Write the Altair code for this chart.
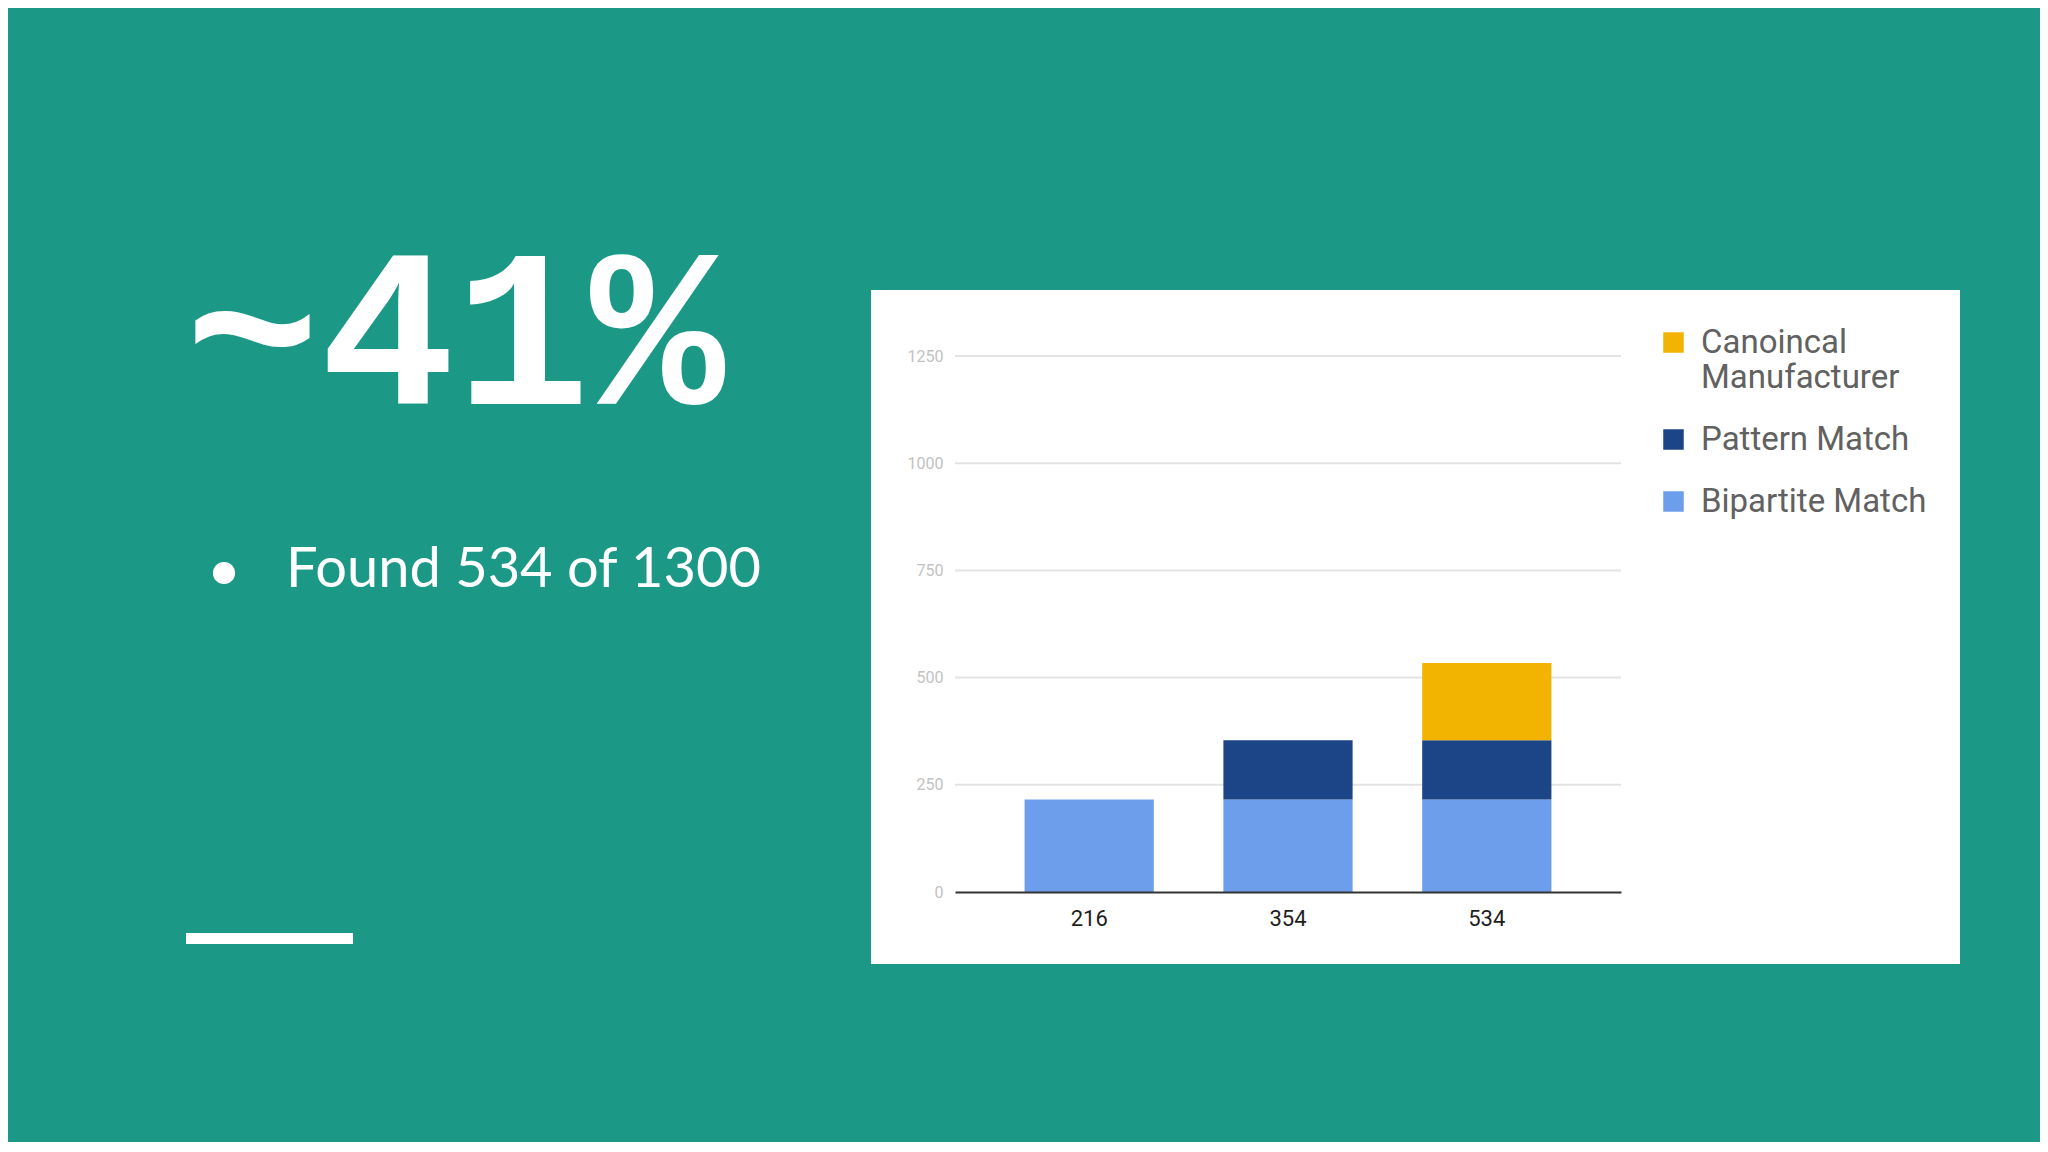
import altair as alt
import pandas as pd

# ---- data ----
totals = ["216", "354", "534"]
series = ["Canoincal Manufacturer", "Pattern Match", "Bipartite Match"]
bipartite = [216, 216, 216]
pattern = [0, 138, 138]
canonical = [0, 0, 180]
y_ticks = [0, 250, 500, 750, 1000, 1250]
grid_vals = [250, 500, 750, 1000, 1250]
colors = ["#f2b400", "#1c4587", "#6d9eeb"]
headline = "~41%"
bullet_text = "Found 534 of 1300"

rows = []
for i, t in enumerate(totals):
    rows.append({"total": t, "series": "Bipartite Match", "value": bipartite[i], "ord": 0})
    rows.append({"total": t, "series": "Pattern Match", "value": pattern[i], "ord": 1})
    rows.append({"total": t, "series": "Canoincal Manufacturer", "value": canonical[i], "ord": 2})
df = pd.DataFrame(rows)

W, H = 666, 536
one = alt.Data(values=[{"k": 1}])

x_enc = alt.X("total:N", sort=totals, title=None,
              scale=alt.Scale(paddingInner=0.35, paddingOuter=0.35),
              axis=alt.Axis(labelFont="Roboto", labelFontSize=22, labelColor="#1e1e1e",
                            labelAngle=0, ticks=False, labelPadding=16,
                            domainColor="#333333", domainWidth=2, zindex=1))
y_scale = alt.Scale(domain=[0, 1250])

panel = alt.Chart(one).mark_rect(color="white").encode(
    x=alt.value(-84), x2=alt.value(1005), y=alt.value(-66), y2=alt.value(608))

grid = alt.Chart(pd.DataFrame({"v": grid_vals})).mark_rule(color="#e3e3e3", strokeWidth=2).encode(
    y=alt.Y("v:Q", scale=y_scale))

bars = alt.Chart(df).mark_bar().encode(
    x=x_enc,
    y=alt.Y("value:Q", stack="zero", scale=y_scale, title=None,
            axis=alt.Axis(values=y_ticks, format="d", grid=False, ticks=False, domain=False,
                          labelFont="Roboto", labelFontSize=16, labelColor="#c2c2c2",
                          labelPadding=12, zindex=1)),
    color=alt.Color("series:N", scale=alt.Scale(domain=series, range=colors), title=None,
                    legend=alt.Legend(orient="none", legendX=702, legendY=-30, zindex=1,
                                      symbolType="square", symbolSize=420, symbolStrokeWidth=0,
                                      labelFont="Roboto", labelFontSize=33, labelColor="#616161",
                                      labelLimit=400, rowPadding=28, labelOffset=11,
                                      labelExpr="datum.label == 'Canoincal Manufacturer' ? ['Canoincal', 'Manufacturer'] : datum.label")),
    order=alt.Order("ord:Q"),
)

big = alt.Chart(one).mark_text(text=headline, font="Liberation Mono", fontWeight="bold",
                               fontSize=225, color="white", align="left", baseline="alphabetic").encode(
    x=alt.value(-770), y=alt.value(48))

dot = alt.Chart(one).mark_point(filled=True, shape="circle", size=491, color="white", opacity=1).encode(
    x=alt.value(-731), y=alt.value(217))

found = alt.Chart(one).mark_text(text=bullet_text, font="Lato", fontSize=56, color="white",
                                 align="left", baseline="alphabetic").encode(
    x=alt.value(-669), y=alt.value(231))

underline = alt.Chart(one).mark_rect(color="white").encode(
    x=alt.value(-769), x2=alt.value(-602), y=alt.value(577), y2=alt.value(588))

chart = alt.layer(panel, grid, bars, big, dot, found, underline).properties(
    width=W, height=H,
    autosize=alt.AutoSizeParams(type="none"),
    padding={"left": 947, "top": 348, "right": 419, "bottom": 250},
    background="#1c9986",
).configure_view(strokeWidth=0)

chart.save("out.html", embed_options={"renderer": "svg", "actions": False})
